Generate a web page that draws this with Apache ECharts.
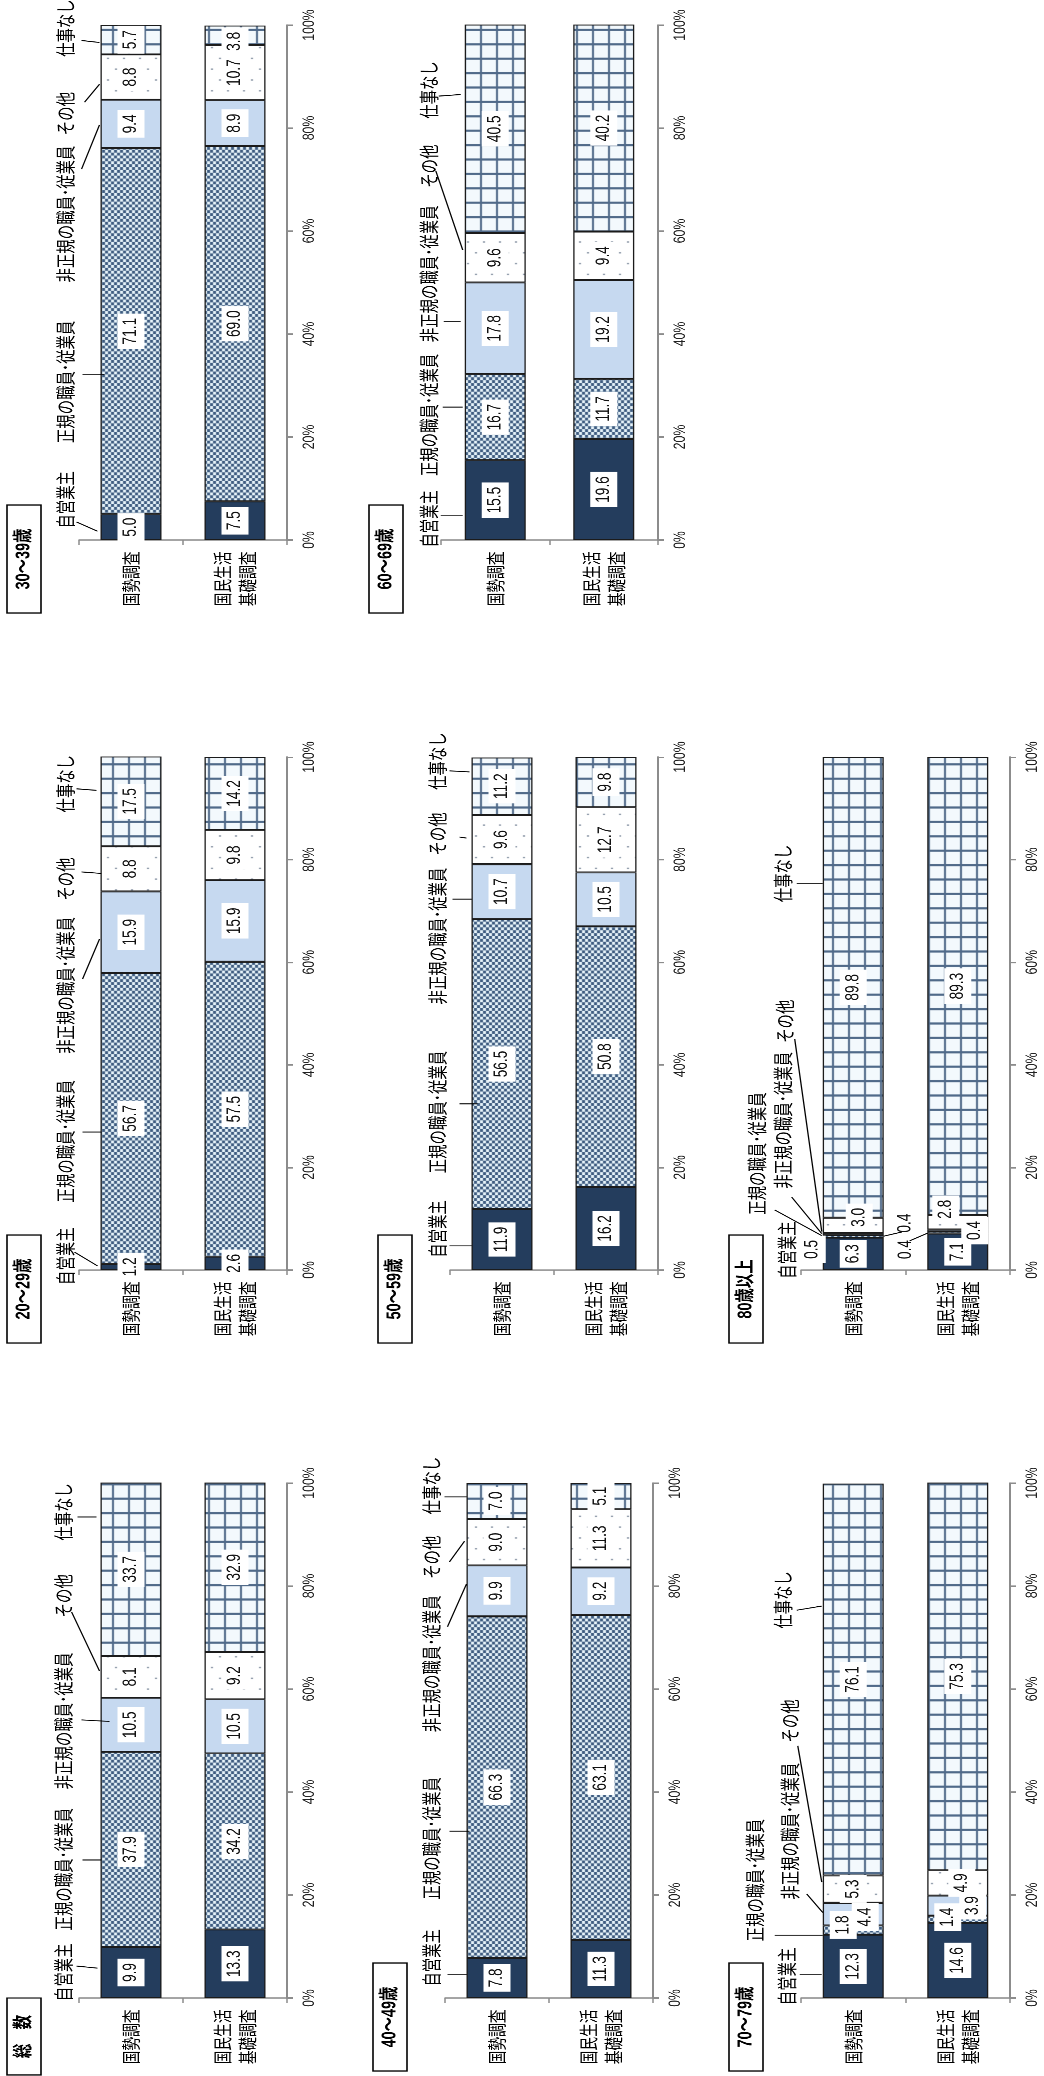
<!DOCTYPE html>
<html>
<head>
<meta charset="utf-8">
<script src="https://cdn.jsdelivr.net/npm/echarts@6/dist/echarts.min.js"></script>
<style>
  html, body { margin: 0; padding: 0; background: #fff; width: 1044px; height: 2076px; overflow: hidden; }
  #chart { position: absolute; left: 0; top: 0; width: 1044px; transform-origin: 0 0; }
</style>
</head>
<body>
<div id="chart"></div>
<script>
// ---- data -------------------------------------------------------------
const categories = ['国勢調査', '国民生活\n基礎調査'];
const statusNames = ['自営業主', '正規の職員･従業員', '非正規の職員･従業員', 'その他', '仕事なし'];
const tickLabels = ['0%', '20%', '40%', '60%', '80%', '100%'];
const panelTitles = ['総　数', '20～29歳', '30～39歳', '40～49歳', '50～59歳', '60～69歳', '70～79歳', '80歳以上'];

// shares (%) in the order of statusNames
const totalCensus = [9.9, 37.9, 10.5, 8.1, 33.7];
const totalLiving = [13.3, 34.2, 10.5, 9.2, 32.9];
const age20Census = [1.2, 56.7, 15.9, 8.8, 17.5];
const age20Living = [2.6, 57.5, 15.9, 9.8, 14.2];
const age30Census = [5.0, 71.1, 9.4, 8.8, 5.7];
const age30Living = [7.5, 69.0, 8.9, 10.7, 3.8];
const age40Census = [7.8, 66.3, 9.9, 9.0, 7.0];
const age40Living = [11.3, 63.1, 9.2, 11.3, 5.1];
const age50Census = [11.9, 56.5, 10.7, 9.6, 11.2];
const age50Living = [16.2, 50.8, 10.5, 12.7, 9.8];
const age60Census = [15.5, 16.7, 17.8, 9.6, 40.5];
const age60Living = [19.6, 11.7, 19.2, 9.4, 40.2];
const age70Census = [12.3, 1.8, 4.4, 5.3, 76.1];
const age70Living = [14.6, 1.4, 3.9, 4.9, 75.3];
const age80Census = [6.3, 0.5, 0.4, 3.0, 89.8];
const age80Living = [7.1, 0.4, 0.4, 2.8, 89.3];

// ---- layout -----------------------------------------------------------
// the page is drawn taller and squeezed vertically, which gives the narrow lettering
const K = 0.72;
const H = Math.round(2076 / K);
const BAR_W = 61;

// plot frames: category span (x0..x1), 100% line and 0% line, title box extent below 0%
const frames = [
  { x0: 79,  x1: 287,  y100: 1483, y0: 1998, box: [0, 77] },
  { x0: 79,  x1: 287,  y100: 757,  y0: 1270, box: [-35, 73] },
  { x0: 79,  x1: 287,  y100: 25,   y0: 540,  box: [-35, 73] },
  { x0: 445, x1: 653,  y100: 1483, y0: 1998, box: [-35, 73] },
  { x0: 450, x1: 658,  y100: 757,  y0: 1270, box: [-35, 73] },
  { x0: 441, x1: 658,  y100: 25,   y0: 540,  box: [-35, 73] },
  { x0: 801, x1: 1010, y100: 1483, y0: 1998, box: [-35, 73] },
  { x0: 801, x1: 1010, y100: 757,  y0: 1270, box: [-35, 73] }
];

// name callouts: [status, text centre (% on axis), text x from left bar edge, line x1, line %1, line x2, line %2]
const notesTotal = [[0, 5.0, -37, -24, 6.2, -3, 5.8], [1, 25.0, -37, -18, 26.8, 1, 26.8], [2, 53.8, -37, -19, 54.0, 9, 53.7], [3, 78.1, -37, -29, 75.0, -1, 63.5], [4, 94.4, -37, -23, 93.4, -4, 93.4]];
const notes20 = [[0, 2.7, -35, -26, 3.5, -3, 0.8], [1, 25.1, -35, -18, 26.9, 1, 26.9], [2, 55.5, -35, -18, 56.7, -1, 64.5], [3, 76.2, -35, -19, 77.6, 1, 77.3], [4, 94.8, -35, -24, 93.8, -4, 93.5]];
const notes30 = [[0, 7.8, -35, -24, 3.5, -3, 1.7], [1, 30.7, -35, -18, 32.2, 4, 32.2], [2, 63.3, -35, -19, 72.0, -1, 80.6], [3, 82.8, -35, -16, 85.0, -1, 88.5], [4, 99.4, -35, -19, 97.0, -1, 96.6]];
const notes40 = [[0, 7.8, -35, -19, 4.5, 0, 4.5], [1, 31.0, -35, -17, 32.4, 3, 32.4], [2, 64.9, -35, -19, 72.1, 0, 80.4], [3, 85.6, -35, -17, 84.7, -2, 88.7], [4, 99.5, -35, -22, 97.3, 0, 97.3]];
const notes50 = [[0, 8.0, -34, -22, 4.7, 0, 4.7], [1, 30.8, -34, -12, 32.4, 6, 32.4], [2, 65.1, -34, -19, 72.3, 0, 72.3], [3, 85.0, -34, -12, 84.4, -5, 84.2], [4, 99.2, -34, -22, 97.3, -2, 97.1]];
const notes60 = [[0, 4.1, -36, -24, 4.7, -2, 4.7], [1, 24.3, -36, -22, 25.8, -2, 25.8], [2, 51.7, -36, -21, 42.4, -4, 42.4], [3, 72.6, -36, -29, 71.7, -2, 56.3], [4, 87.4, -36, -26, 86.2, -4, 86.5]];
const notes70 = [[4, 77.3, -40, -26, 75.3, -1, 76.1], [3, 53.8, -33, -25, 49.0, -1, 22.5], [2, 32.4, -33, -16, 20.2, 0, 16.6], [1, 22.9, -68, -48, 12.2, 0, 12.2], [0, 4.2, -36, -23, 4.5, -1, 4.5]];
const notes80 = [[4, 77.3, -40, -26, 75.4, 0, 75.4], [3, 48.5, -38, -28, 45.0, -1, 7.5], [2, 29.2, -40, -31, 14.2, -1, 7.1], [1, 22.7, -66, -48, 11.7, -1, 6.7], [0, 3.9, -36]];

// value labels moved off the thin segments: screen [dx, dy] per status, per bar
const shift30 = [[[0, 0], [0, 0], [0, 0], [0, 0], [0, 0]], [[0, 0], [0, 0], [0, 0], [0, 0], [0, 6]]];
const shift70 = [[[0, 0], [-10, -5], [12, 3], [0, 0], [0, 0]], [[0, 0], [-10, -2], [15, 0], [4, 0], [0, 0]]];
const shift80 = [[[0, 0], [-41, 13], [52, -11], [6, -8], [0, 0]], [[0, 0], [-52, 17], [17, 0], [-12, -13], [0, 0]]];
// short pointer lines for the moved labels: [x1 from left bar edge, %1, x2, %2]
const pointers80 = [[61, 6.6, 79, 7.4], [87, 5.7, 105, 7.2]];

const panels = [
  { census: totalCensus, living: totalLiving, notes: notesTotal },
  { census: age20Census, living: age20Living, notes: notes20 },
  { census: age30Census, living: age30Living, notes: notes30, shift: shift30 },
  { census: age40Census, living: age40Living, notes: notes40 },
  { census: age50Census, living: age50Living, notes: notes50 },
  { census: age60Census, living: age60Living, notes: notes60 },
  { census: age70Census, living: age70Living, notes: notes70, shift: shift70 },
  { census: age80Census, living: age80Living, notes: notes80, shift: shift80, pointers: pointers80 }
];

// ---- fills ------------------------------------------------------------
function makePattern(w, h, draw) {
  const c = document.createElement('canvas');
  c.width = w; c.height = h;
  draw(c.getContext('2d'));
  return { image: c, repeat: 'repeat' };
}
const fills = [
  '#243d5d',
  makePattern(6, 8, g => {
    g.fillStyle = '#e6f3fa'; g.fillRect(0, 0, 6, 8);
    g.fillStyle = '#3e5c80'; g.fillRect(0, 0, 3, 4); g.fillRect(3, 4, 3, 4);
  }),
  '#c6d9f0',
  makePattern(16, 30, g => {
    g.fillStyle = '#ffffff'; g.fillRect(0, 0, 16, 30);
    g.fillStyle = '#8a96a6'; g.fillRect(3, 5, 2, 2); g.fillRect(11, 20, 2, 2);
  }),
  makePattern(16, 20, g => {
    g.fillStyle = '#f3f9fd'; g.fillRect(0, 0, 16, 20);
    g.fillStyle = '#506a89'; g.fillRect(0, 0, 2, 20); g.fillRect(0, 0, 16, 3);
  })
];

// ---- chart ------------------------------------------------------------
const el = document.getElementById('chart');
el.style.height = H + 'px';
el.style.transform = 'scaleY(' + K + ')';
const chart = echarts.init(el, null, { renderer: 'canvas', devicePixelRatio: 2 });

const NUM_FONT = "'Liberation Sans', Arial, 'Noto Sans CJK JP', sans-serif";
const JP_FONT = "'Noto Sans CJK JP', sans-serif";
const AXIS_GRAY = '#8c8c8c';

const grids = [], xAxes = [], yAxes = [], series = [];
panels.forEach((p, i) => {
  const f = frames[i];
  grids.push({ left: f.x0, width: f.x1 - f.x0, top: f.y100 / K, height: (f.y0 - f.y100) / K, containLabel: false });
  xAxes.push({
    type: 'category', gridIndex: i, data: categories, position: 'bottom',
    axisLine: { lineStyle: { color: AXIS_GRAY, width: 1.8 } },
    axisTick: { show: true, length: 7, lineStyle: { color: AXIS_GRAY, width: 1.5 } },
    axisLabel: { rotate: 90, margin: 16, fontSize: 19, lineHeight: 25, color: '#000', fontFamily: JP_FONT }
  });
  yAxes.push({
    type: 'value', gridIndex: i, position: 'right', min: 0, max: 100, interval: 20,
    axisLine: { show: true, lineStyle: { color: AXIS_GRAY, width: 2 } },
    axisTick: { show: true, length: 6, lineStyle: { color: AXIS_GRAY, width: 2 } },
    splitLine: { show: false },
    axisLabel: { rotate: 90, margin: 14, fontSize: 17, color: '#222', fontFamily: NUM_FONT,
      formatter: v => tickLabels[Math.round(v / 20)] }
  });
  statusNames.forEach((name, s) => {
    series.push({
      type: 'bar', name: name, stack: 'g' + i, xAxisIndex: i, yAxisIndex: i,
      barWidth: BAR_W,
      data: [p.census[s], p.living[s]],
      itemStyle: { color: fills[s], borderColor: '#1b1b1b', borderWidth: 1.3 },
      emphasis: { disabled: true },
      label: {
        show: true, position: 'inside', rotate: 90,
        formatter: prm => prm.value.toFixed(1),
        fontFamily: NUM_FONT, fontSize: 19, color: '#111',
        backgroundColor: '#ffffff', padding: [4, 6]
      },
      // the shift is given on screen; the label frame is turned a quarter, so swap axes
      labelLayout: prm => {
        const sh = p.shift ? p.shift[prm.dataIndex][s] : null;
        return sh ? { dx: -sh[1] / K, dy: sh[0] } : {};
      }
    });
  });
});

chart.setOption({
  animation: false,
  backgroundColor: '#ffffff',
  grid: grids,
  xAxis: xAxes,
  yAxis: yAxes,
  series: series
});

// ---- callouts and panel titles, placed through the axes -----------------
const elements = [];
panels.forEach((p, i) => {
  const f = frames[i];
  const centre0 = chart.convertToPixel({ gridIndex: i }, [0, 0]);
  const barLeft = centre0[0] - BAR_W / 2;
  const zeroY = centre0[1];
  const Y = pct => chart.convertToPixel({ gridIndex: i }, [0, pct])[1];

  p.notes.forEach(n => {
    elements.push({
      type: 'text', x: barLeft + n[2], y: Y(n[1]), rotation: Math.PI / 2, z: 100,
      style: { text: statusNames[n[0]], fontSize: 20, fontFamily: JP_FONT, fill: '#000',
        align: 'center', verticalAlign: 'middle', textAlign: 'center', textVerticalAlign: 'middle' }
    });
    if (n.length > 3) {
      elements.push({
        type: 'line', z: 100,
        shape: { x1: barLeft + n[3], y1: Y(n[4]), x2: barLeft + n[5], y2: Y(n[6]) },
        style: { stroke: '#000', lineWidth: 1.3 }
      });
    }
  });
  (p.pointers || []).forEach(l => {
    elements.push({
      type: 'line', z: 100,
      shape: { x1: barLeft + l[0], y1: Y(l[1]), x2: barLeft + l[2], y2: Y(l[3]) },
      style: { stroke: '#000', lineWidth: 1.3 }
    });
  });

  // title box
  const bx = f.x0 - 72, bw = 34;
  const by = zeroY + f.box[0] / K, bh = (f.box[1] - f.box[0]) / K;
  elements.push({
    type: 'rect', z: 100,
    shape: { x: bx, y: by, width: bw, height: bh },
    style: { fill: '#ffffff', stroke: '#000', lineWidth: 1.6 }
  });
  elements.push({
    type: 'text', x: bx + bw / 2, y: by + bh / 2, rotation: Math.PI / 2, z: 101,
    style: { text: panelTitles[i], fontSize: 20, fontWeight: 'bold', fontFamily: NUM_FONT, fill: '#000',
      align: 'center', verticalAlign: 'middle', textAlign: 'center', textVerticalAlign: 'middle' }
  });
});

chart.setOption({ graphic: { elements: elements } });
</script>
</body>
</html>
